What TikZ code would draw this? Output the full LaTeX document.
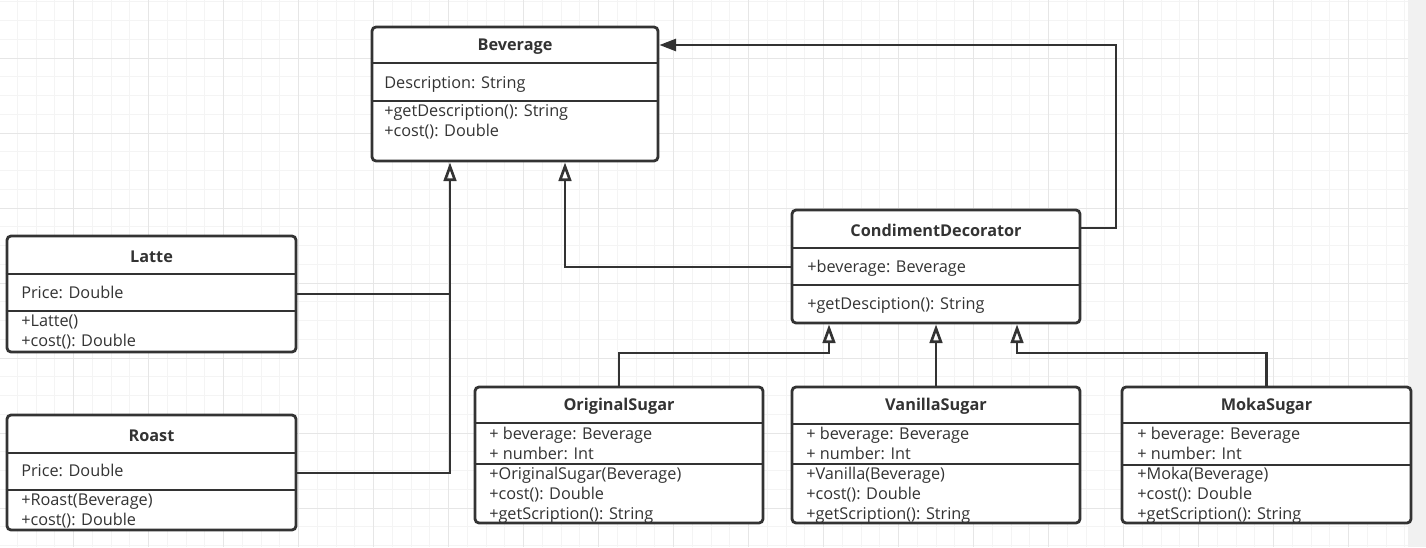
\documentclass[tikz,border=0pt]{standalone}
\usepackage{fontspec}
\setmainfont{Open Sans}
\usepackage{tikz}
\usetikzlibrary{arrows.meta}
\definecolor{umlgray}{HTML}{333333}
\definecolor{gridminor}{HTML}{F4F4F4}
\definecolor{gridmajor}{HTML}{E6E6E6}
\definecolor{bandgray}{HTML}{F1F1F1}

\begin{document}
\begin{tikzpicture}[x=0.75pt, y=-0.75pt,
    classbox/.style={draw=umlgray, line width=2.1pt, rounded corners=3pt, fill=white, inner sep=0pt},
    sepline/.style={draw=umlgray, line width=1.6pt},
    title/.style={font=\fontsize{12.2}{14}\selectfont\bfseries, text=umlgray, inner sep=0pt, yshift=-1.2pt},
    member/.style={anchor=west, inner sep=0pt, font=\fontsize{12.2}{14}\selectfont, text=umlgray, text height=8.7pt, text depth=2.9pt, yshift=-1.2pt},
    link/.style={draw=umlgray, line width=2pt},
    inherit/.style={link, -{Triangle[open, length=14pt, width=9.5pt]}},
    assoc/.style={link, -{Triangle[length=12.5pt, width=9pt]}}]

  \useasboundingbox (0,0) rectangle (1426,547);

  % Grid
  \fill[white] (0,0) rectangle (1408,547);
  \foreach \i in {1,...,75}
    \draw[gridminor, line width=0.75pt] ({-1.5+18.75*\i},0) -- ({-1.5+18.75*\i},547);
  \foreach \i in {0,...,29}
    \draw[gridminor, line width=0.75pt] (0,{1.75+18.75*\i}) -- (1408,{1.75+18.75*\i});
  \foreach \i in {0,...,17}
    \draw[gridmajor, line width=0.75pt] ({73.5+75*\i},0) -- ({73.5+75*\i},547);
  \foreach \i in {0,...,6}
    \draw[gridmajor, line width=0.75pt] (0,{58+75*\i}) -- (1408,{58+75*\i});
  \fill[bandgray] (1408,0) rectangle (1426,547);

  % Beverage
  \node[classbox, minimum width=214.5pt, minimum height=100.5pt] (bev) at (515,94) {};
  \draw[sepline] (bev.west |- 0,63) -- (bev.east |- 0,63);
  \draw[sepline] (bev.west |- 0,101) -- (bev.east |- 0,101);
  \node[title] (bev-t) at (bev.north |- 0,45) {Beverage};
  \node[member] (bev-a1) at (384,83) {Description: String};
  \foreach \t [count=\i] in {+getDescription(): String, +cost(): Double}
    \node[member] (bev-m\i) at (384,{91+20*\i}) {\t};

  % Latte
  \node[classbox, minimum width=216.75pt, minimum height=87pt] (latte) at (151.5,294) {};
  \draw[sepline] (latte.west |- 0,274) -- (latte.east |- 0,274);
  \draw[sepline] (latte.west |- 0,311) -- (latte.east |- 0,311);
  \node[title] (latte-t) at (latte.north |- 0,255) {Latte};
  \node[member] (latte-a1) at (21,293) {Price: Double};
  \foreach \t [count=\i] in {+Latte(), +cost(): Double}
    \node[member] (latte-m\i) at (21,{301+20*\i}) {\t};

  % Roast
  \node[classbox, minimum width=216.75pt, minimum height=86.25pt] (roast) at (151.5,472.5) {};
  \draw[sepline] (roast.west |- 0,453) -- (roast.east |- 0,453);
  \draw[sepline] (roast.west |- 0,490) -- (roast.east |- 0,490);
  \node[title] (roast-t) at (roast.north |- 0,434) {Roast};
  \node[member] (roast-a1) at (21,471) {Price: Double};
  \foreach \t [count=\i] in {+Roast(Beverage), +cost(): Double}
    \node[member] (roast-m\i) at (21,{480+20*\i}) {\t};

  % CondimentDecorator
  \node[classbox, minimum width=216pt, minimum height=84.75pt] (cond) at (936,266.5) {};
  \draw[sepline] (cond.west |- 0,248) -- (cond.east |- 0,248);
  \draw[sepline] (cond.west |- 0,285) -- (cond.east |- 0,285);
  \node[title] (cond-t) at (cond.north |- 0,229) {CondimentDecorator};
  \node[member] (cond-a1) at (807,267) {+beverage: Beverage};
  \node[member] (cond-m1) at (807,304) {+getDesciption(): String};

  % OriginalSugar
  \node[classbox, minimum width=216pt, minimum height=102pt] (orig) at (619,455) {};
  \draw[sepline] (orig.west |- 0,423) -- (orig.east |- 0,423);
  \draw[sepline] (orig.west |- 0,464) -- (orig.east |- 0,464);
  \node[title] (orig-t) at (orig.north |- 0,405) {OriginalSugar};
  \foreach \t [count=\i] in {+ beverage: Beverage, + number: Int}
    \node[member] (orig-a\i) at (489,{414+20*\i}) {\t};
  \foreach \t [count=\i] in {+OriginalSugar(Beverage), +cost(): Double, +getScription(): String}
    \node[member] (orig-m\i) at (489,{454+20*\i}) {\t};

  % VanillaSugar
  \node[classbox, minimum width=216pt, minimum height=102pt] (van) at (936,455) {};
  \draw[sepline] (van.west |- 0,424) -- (van.east |- 0,424);
  \draw[sepline] (van.west |- 0,464) -- (van.east |- 0,464);
  \node[title] (van-t) at (van.north |- 0,405) {VanillaSugar};
  \foreach \t [count=\i] in {+ beverage: Beverage, + number: Int}
    \node[member] (van-a\i) at (806,{414+20*\i}) {\t};
  \foreach \t [count=\i] in {+Vanilla(Beverage), +cost(): Double, +getScription(): String}
    \node[member] (van-m\i) at (806,{454+20*\i}) {\t};

  % MokaSugar
  \node[classbox, minimum width=216.75pt, minimum height=102pt] (moka) at (1266.5,455) {};
  \draw[sepline] (moka.west |- 0,423) -- (moka.east |- 0,423);
  \draw[sepline] (moka.west |- 0,465) -- (moka.east |- 0,465);
  \node[title] (moka-t) at (moka.north |- 0,405) {MokaSugar};
  \foreach \t [count=\i] in {+ beverage: Beverage, + number: Int}
    \node[member] (moka-a\i) at (1137,{414+20*\i}) {\t};
  \foreach \t [count=\i] in {+Moka(Beverage), +cost(): Double, +getScription(): String}
    \node[member] (moka-m\i) at (1137,{454+20*\i}) {\t};

  % Links to Beverage
  \coordinate (latte-j) at (450,294);
  \coordinate (roast-j) at (450,473);
  \coordinate (cond-j) at (565,267);
  \coordinate (wrap) at (1116,45);
  \draw[link] (latte.east |- latte-j) -- (latte-j);
  \draw[inherit] (roast.east |- roast-j) -- (roast-j) -- (roast-j |- bev.south);
  \draw[inherit] (cond.west |- cond-j) -- (cond-j) -- (cond-j |- bev.south);
  \draw[assoc] (cond.east |- 0,228) -- (wrap |- 0,228) -- (wrap) -- (bev.east |- wrap);

  % Links to CondimentDecorator
  \coordinate (orig-j) at (829,353);
  \coordinate (moka-j) at (1017,353);
  \draw[inherit] (orig.north) -- (orig.north |- orig-j) -- (orig-j) -- (orig-j |- cond.south);
  \draw[inherit] (van.north) -- (van.north |- cond.south);
  \draw[inherit] (moka.north) -- (moka.north |- moka-j) -- (moka-j) -- (moka-j |- cond.south);
\end{tikzpicture}
\end{document}
